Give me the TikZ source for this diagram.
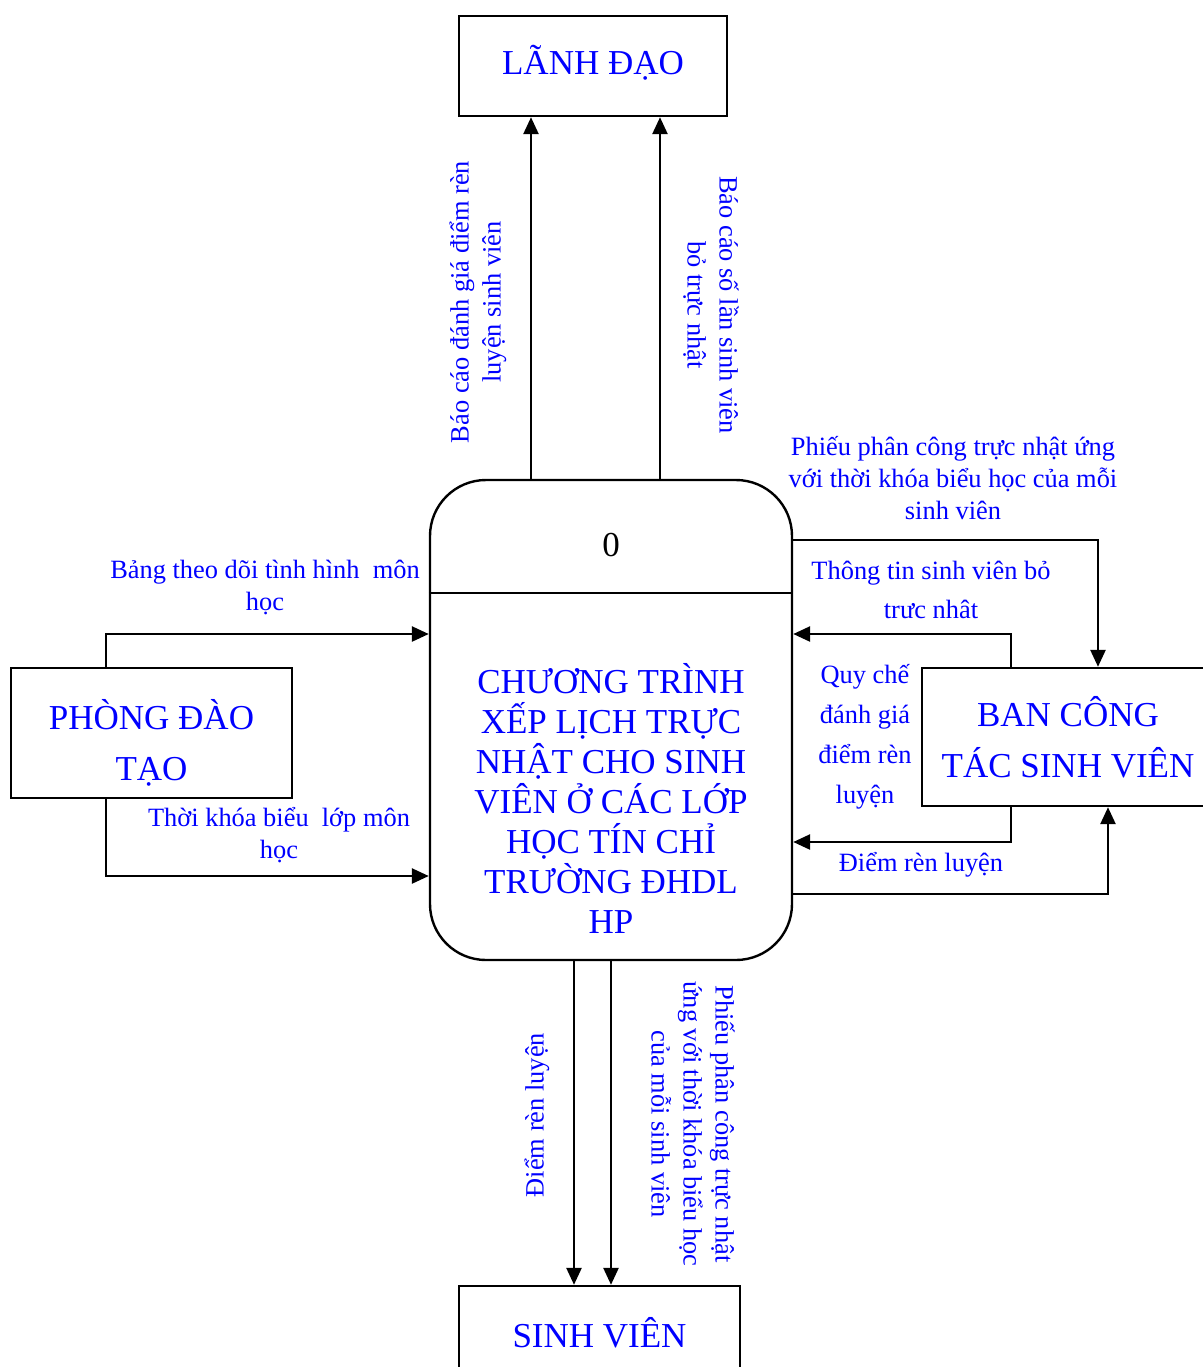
\documentclass[tikz,border=0pt]{standalone}
\usepackage{fontspec}
\setmainfont{Liberation Serif}
\usepackage{tikz}
\usetikzlibrary{positioning, arrows.meta, calc}
\usepackage{xcolor}
\definecolor{dfdblue}{RGB}{0,0,255}

\begin{document}
\begin{tikzpicture}[
		x=0.5pt, y=-0.5pt,
		agent/.style={rectangle, draw=black, line width=1.2pt, align=center, text=dfdblue,
			font=\fontsize{17.5}{25.5}\selectfont},
		process/.style={rectangle, draw=black, line width=1.2pt, rounded corners=28pt,
			minimum width=181pt, minimum height=240pt},
		flow/.style={-{Triangle[length=8.5pt,width=7.5pt]}, line width=1.3pt},
		lbl/.style={text=dfdblue, align=center, font=\fontsize{13.2}{16}\selectfont}
		]
		
		\useasboundingbox (0,0) rectangle (1203,1367);
		\clip (0,0) rectangle (1203,1367);
		
		% Tác nhân ngoài
		\node[agent, minimum width=134pt, minimum height=50pt] (lead) at (593,66) {LÃNH ĐẠO\rule[-6pt]{0pt}{1pt}};
		\node[agent, minimum width=140.5pt, minimum height=65pt] (pdt) at (151.5,733) {\rule{0pt}{25pt}PHÒNG ĐÀO\\TẠO};
		\node[agent, minimum width=146pt, minimum height=69pt] (ban) at (1068,737) {BAN CÔNG\\TÁC SINH VIÊN};
		\node[agent, minimum width=140.5pt, minimum height=47pt] (sv) at (599.5,1333) {SINH VIÊN};
		
		% Tiến trình trung tâm
		\node[process] (proc) at (611,720) {};
		\draw[line width=1.2pt] ([yshift=-57pt]proc.north west) -- ([yshift=-57pt]proc.north east);
		\node[font=\fontsize{17.5}{20}\selectfont] (num) at (611,545) {0};
		\node[agent, draw=none, font=\fontsize{17.5}{20}\selectfont] (title) at (611,798)
		{CHƯƠNG TRÌNH\\XẾP LỊCH TRỰC\\NHẬT CHO SINH\\VIÊN Ở CÁC LỚP\\HỌC TÍN CHỈ\\TRƯỜNG ĐHDL\\HP};
		
		% Điểm gấp của các luồng
		\coordinate (u1) at (531,0);
		\coordinate (u2) at (660,0);
		\coordinate (d1) at (574,0);
		\coordinate (d2) at (611,0);
		\coordinate (r1) at (1098,540);
		\coordinate (r2) at (1011,634);
		\coordinate (r3) at (1011,842);
		\coordinate (r4) at (1108,894);
		\coordinate (l1) at (106,634);
		\coordinate (l2) at (106,876);
		
		% Luồng dữ liệu
		\draw[flow] (proc.north -| u1) -- (lead.south -| u1);
		\draw[flow] (proc.north -| u2) -- (lead.south -| u2);
		\draw[flow] (proc.south -| d1) -- (sv.north -| d1);
		\draw[flow] (proc.south -| d2) -- (sv.north -| d2);
		\draw[flow] (proc.east |- r1) -| (ban.north -| r1);
		\draw[flow] (ban.north -| r2) |- (proc.east |- r2);
		\draw[flow] (ban.south -| r3) |- (proc.east |- r3);
		\draw[flow] (proc.east |- r4) -| (ban.south -| r4);
		\draw[flow] (pdt.north -| l1) |- (proc.west |- l1);
		\draw[flow] (pdt.south -| l2) |- (proc.west |- l2);
		
		% Nhãn luồng
		\node[lbl, rotate=90] (t1) at (478,302) {Báo cáo đánh giá điểm rèn\\luyện sinh viên};
		\node[lbl, rotate=-90] (t2) at (711,305) {Báo cáo số lần sinh viên\\bỏ trực nhật};
		\node[lbl] (t3) at (953,478) {Phiếu phân công trực nhật ứng\\với thời khóa biểu học của mỗi\\sinh viên};
		\node[lbl, font=\fontsize{13.2}{19.5}\selectfont] (t4) at (931,590) {Thông tin sinh viên bỏ\\trưc nhât};
		\node[lbl, font=\fontsize{13.2}{20}\selectfont] (t5) at (865,737) {Quy chế\\đánh giá\\điểm rèn\\luyện};
		\node[lbl] (t6) at (921,865) {Điểm rèn luyện};
		\node[lbl] (t7) at (265,587) {Bảng theo dõi tình hình~ môn\\học};
		\node[lbl] (t8) at (279,835) {Thời khóa biểu~ lớp môn\\học};
		\node[lbl, rotate=90] (t9) at (537,1115) {Điểm rèn luyện};
		\node[lbl, rotate=-90] (t10) at (693,1124) {Phiếu phân công trực nhật\\ứng với thời khóa biểu học\\của mỗi sinh viên};
		
	\end{tikzpicture}
\end{document}
